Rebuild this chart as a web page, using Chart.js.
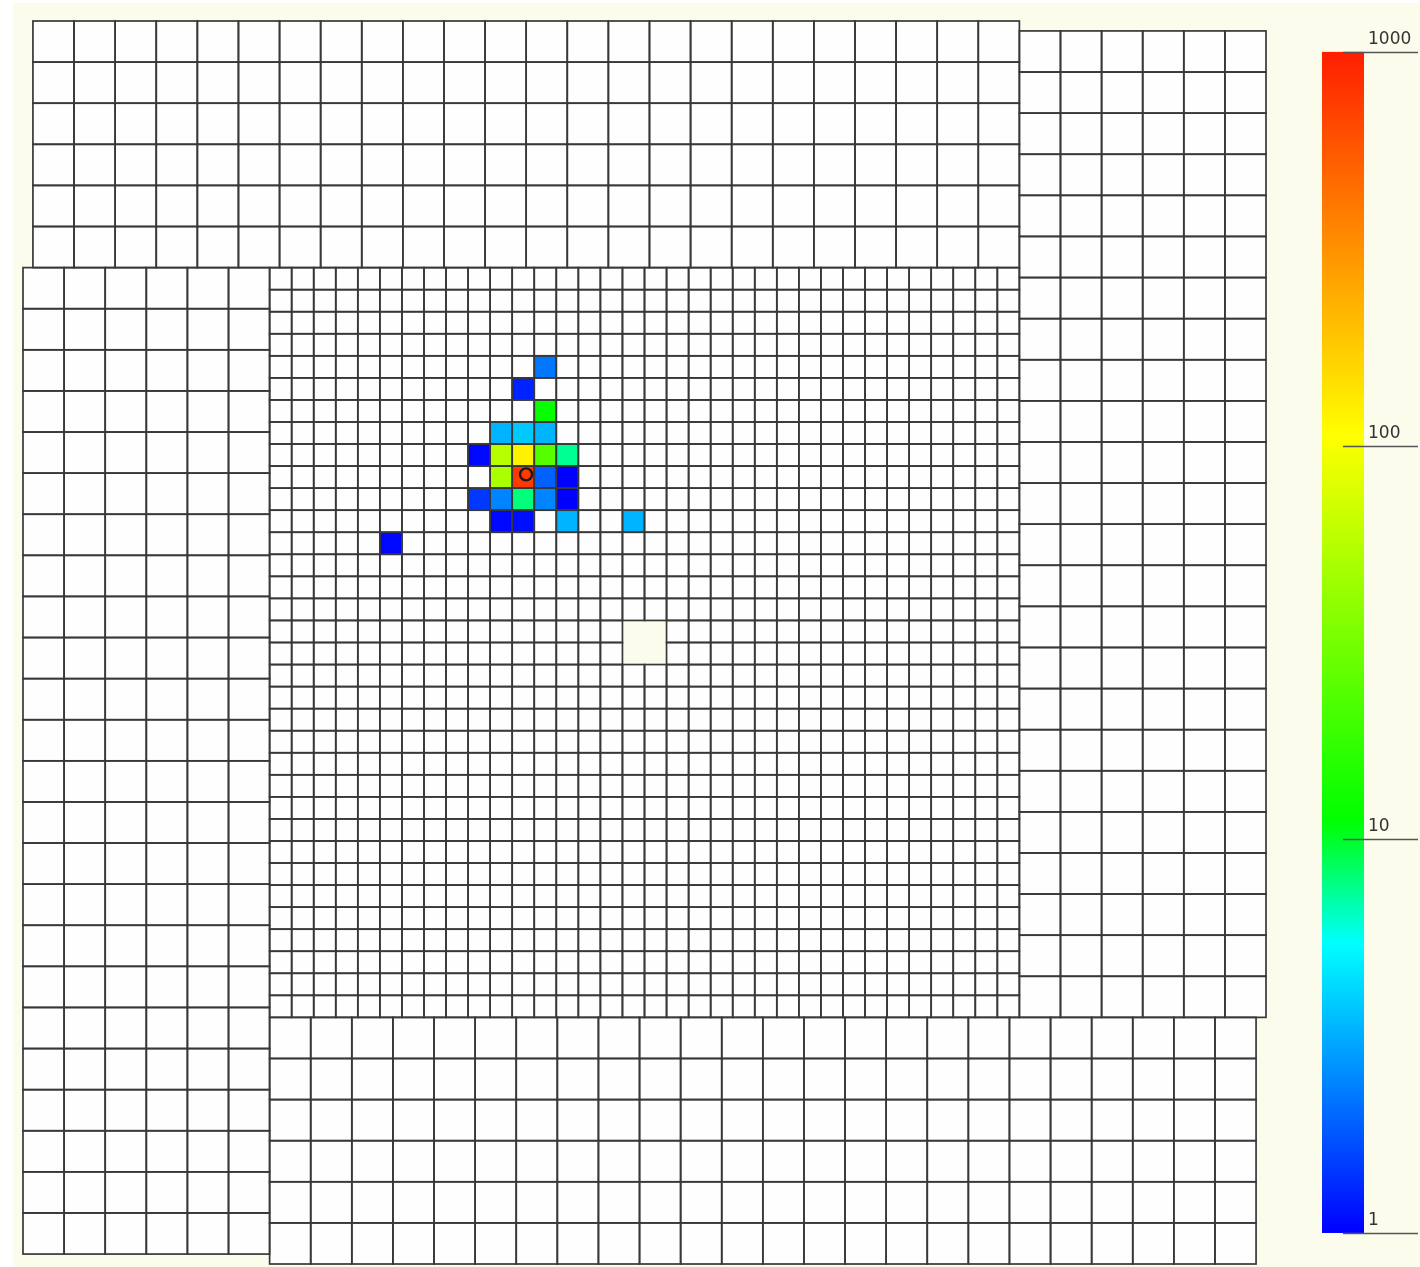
<!DOCTYPE html>
<html>
<head>
<meta charset="utf-8">
<title>Calorimeter hit map</title>
<script src="https://cdn.jsdelivr.net/npm/chart.js@4.4.1/dist/chart.umd.min.js"></script>
<style>
  html, body { margin: 0; padding: 0; background: #ffffff; }
  #frame { position: absolute; left: 13px; top: 3px; width: 1407px; height: 1264px; background: #fcfcec; }
  #calo { position: absolute; left: 0; top: 0; }
</style>
</head>
<body>
<div id="frame"></div>
<canvas id="calo" width="1420" height="1267"></canvas>
<script>
// Fired cells of the fine inner module (column from the left, row from the top)
const hitCol    = [12, 11, 12, 10, 11, 12, 9, 10, 11, 12, 13, 10, 11, 12, 13, 9, 10, 11, 12, 13, 10, 11, 13, 16, 5];
const hitRow    = [4, 5, 6, 7, 7, 7, 8, 8, 8, 8, 8, 9, 9, 9, 9, 10, 10, 10, 10, 10, 11, 11, 11, 11, 12];
const hitEnergy = [2.2, 1.25, 12, 3.3, 3.8, 3.3, 1.05, 55, 120, 24, 7.4, 50, 760, 1.9, 1.0, 1.45, 2.4, 7.9, 2.4, 1.0, 1.05, 1.1, 3.3, 3.3, 1.05];

// Reconstructed cluster position (mm) and its energy
const clusterX = [-217];
const clusterY = [308];
const clusterEnergy = [760];

// Colour scale ticks
const colorTicks = [1, 10, 100, 1000];
const colorTickLabels = ['1', '10', '100', '1000'];

// Detector geometry (mm)
const SMALL = 40.4, LARGE = 75.3;
const N_SMALL = 34, N_LONG = 24, N_SHORT = 6;
const HALF_IN = N_SMALL * SMALL / 2;
const HALF_ALL = HALF_IN + N_SHORT * LARGE;
const modules = [
  { x0: -HALF_IN, y0: -HALF_IN, nx: N_SMALL, ny: N_SMALL, size: SMALL, inner: true },
  { x0: HALF_IN - N_LONG * LARGE, y0: HALF_IN, nx: N_LONG, ny: N_SHORT, size: LARGE },
  { x0: HALF_IN, y0: -HALF_IN, nx: N_SHORT, ny: N_LONG, size: LARGE },
  { x0: -HALF_IN, y0: -HALF_IN - N_SHORT * LARGE, nx: N_LONG, ny: N_SHORT, size: LARGE },
  { x0: -HALF_IN - N_SHORT * LARGE, y0: HALF_IN - N_LONG * LARGE, nx: N_SHORT, ny: N_LONG, size: LARGE }
];
// beam hole: central 2x2 cells of the inner module
const isHole = (i, j) => (i === 16 || i === 17) && (j === 16 || j === 17);

// Rainbow palette on a log10 scale from 1 to 1000
const paletteStops = [
  [0.000, [0, 0, 255]],
  [0.245, [0, 255, 255]],
  [0.350, [0, 255, 0]],
  [0.675, [255, 255, 0]],
  [1.000, [255, 30, 0]]
];
const rgb = c => `rgb(${Math.round(c[0])},${Math.round(c[1])},${Math.round(c[2])})`;
function paletteAt(t) {
  t = Math.max(0, Math.min(1, t));
  for (let k = 1; k < paletteStops.length; k++) {
    const [t1, c1] = paletteStops[k];
    const [t0, c0] = paletteStops[k - 1];
    if (t <= t1) {
      const f = (t - t0) / (t1 - t0);
      return [0, 1, 2].map(n => c0[n] + f * (c1[n] - c0[n]));
    }
  }
  return paletteStops[paletteStops.length - 1][1];
}
const colorFor = e => rgb(paletteAt(Math.log10(e) / 3));

const hitMap = new Map();
hitCol.forEach((c, k) => hitMap.set(c + ',' + hitRow[k], hitEnergy[k]));

const GRID_COLOR = '#383838';
const CELL_WHITE = '#fefefe';

const cellsPlugin = {
  id: 'caloCells',
  beforeDatasetsDraw(chart) {
    const { ctx, scales: { x, y } } = chart;
    const rects = [];
    modules.forEach(m => {
      const yTop = m.y0 + m.ny * m.size;
      for (let i = 0; i < m.nx; i++) {
        for (let j = 0; j < m.ny; j++) {
          if (m.inner && isHole(i, j)) continue;
          const px0 = x.getPixelForValue(m.x0 + i * m.size);
          const px1 = x.getPixelForValue(m.x0 + (i + 1) * m.size);
          const py0 = y.getPixelForValue(yTop - j * m.size);
          const py1 = y.getPixelForValue(yTop - (j + 1) * m.size);
          const e = m.inner ? hitMap.get(i + ',' + j) : undefined;
          rects.push([px0, py0, px1 - px0, py1 - py0, e]);
        }
      }
    });
    ctx.save();
    rects.forEach(r => {
      ctx.fillStyle = r[4] ? colorFor(r[4]) : CELL_WHITE;
      ctx.fillRect(r[0], r[1], r[2], r[3]);
    });
    ctx.lineWidth = 1.7;
    ctx.strokeStyle = GRID_COLOR;
    rects.forEach(r => ctx.strokeRect(r[0], r[1], r[2], r[3]));
    ctx.restore();
  }
};

const colorBarPlugin = {
  id: 'colorBar',
  afterDraw(chart) {
    const { ctx, chartArea } = chart;
    const cs = chart.scales.yColor;
    const barX = chartArea.right + 56, barW = 42;
    const top = cs.getPixelForValue(colorTicks[colorTicks.length - 1]);
    const bot = cs.getPixelForValue(colorTicks[0]);
    ctx.save();
    const grad = ctx.createLinearGradient(0, bot, 0, top);
    paletteStops.forEach(s => grad.addColorStop(s[0], rgb(s[1])));
    ctx.fillStyle = grad;
    ctx.fillRect(barX, top, barW, bot - top);
    ctx.strokeStyle = '#555555';
    ctx.lineWidth = 1.5;
    ctx.fillStyle = '#333333';
    ctx.font = '17px "DejaVu Sans", sans-serif';
    ctx.textAlign = 'left';
    ctx.textBaseline = 'alphabetic';
    colorTicks.forEach((v, k) => {
      const py = Math.round(cs.getPixelForValue(v)) + 0.5;
      ctx.beginPath();
      ctx.moveTo(barX + barW / 2, py);
      ctx.lineTo(chart.width - 2, py);
      ctx.stroke();
      ctx.fillText(colorTickLabels[k], barX + barW + 4, py - 9);
    });
    ctx.restore();
  }
};

new Chart(document.getElementById('calo'), {
  type: 'scatter',
  data: {
    datasets: [{
      label: 'cluster',
      data: clusterX.map((v, k) => ({ x: v, y: clusterY[k] })),
      pointRadius: 6,
      pointHoverRadius: 6,
      pointBorderWidth: 2.4,
      borderColor: '#1a1a1a',
      backgroundColor: colorFor(clusterEnergy[0])
    }]
  },
  options: {
    responsive: false,
    animation: false,
    events: [],
    layout: { autoPadding: false, padding: { left: 23, top: 21, right: 154, bottom: 3 } },
    plugins: { legend: { display: false }, tooltip: { enabled: false } },
    scales: {
      x: { type: 'linear', min: -HALF_ALL, max: HALF_ALL, display: false },
      y: { type: 'linear', min: -HALF_ALL, max: HALF_ALL, display: false },
      yColor: { type: 'logarithmic', position: 'right', min: 0.834, max: 1198, display: false }
    }
  },
  plugins: [cellsPlugin, colorBarPlugin]
});
</script>
</body>
</html>
